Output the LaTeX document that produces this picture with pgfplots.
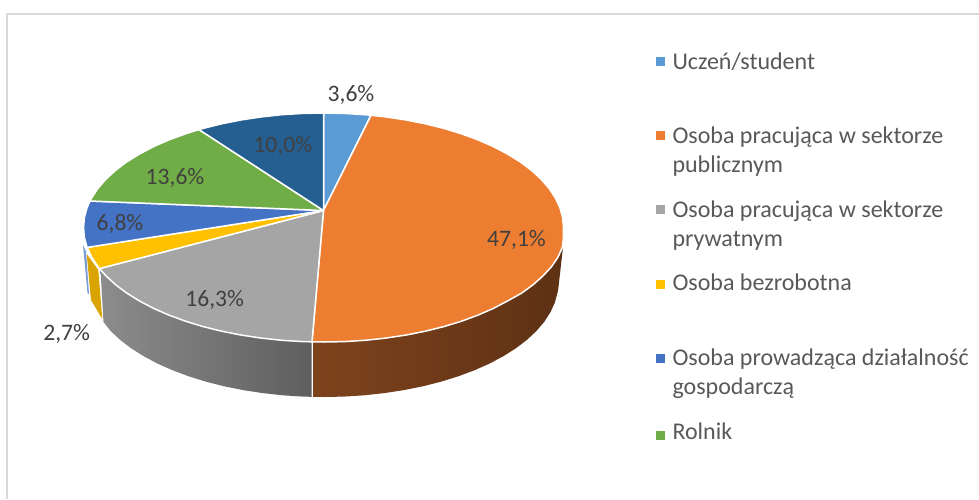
\documentclass[border=0pt]{standalone}
\usepackage{fontspec}
\setmainfont{Carlito}
\usepackage{pgfplots}
\pgfplotsset{compat=1.18}

\definecolor{cStudent}{HTML}{5B9BD5}
\definecolor{cPublic}{HTML}{ED7D31}
\definecolor{cPrivate}{HTML}{A5A5A5}
\definecolor{cJobless}{HTML}{FFC000}
\definecolor{cBusiness}{HTML}{4472C4}
\definecolor{cFarmer}{HTML}{70AD47}
\definecolor{cOther}{HTML}{255E91}
\definecolor{labelgray}{HTML}{404040}
\definecolor{legendgray}{HTML}{595959}

\pgfplotsset{
  face/.style={fill=#1, draw=white, line width=1.5pt, line join=round},
  key/.style={only marks, mark=square*, mark size=4pt, mark options={fill=#1, draw=#1, line width=0pt}},
}
\newcommand{\pct}[3]{\node[anchor=base, inner sep=0pt, font=\fontsize{23.6pt}{28pt}\selectfont, text=labelgray] at (axis cs:#1,#2) {#3};}
\newcommand{\leg}[2]{\node[anchor=base west, inner sep=0pt, font=\fontsize{24pt}{28pt}\selectfont, text=legendgray] at (axis cs:672.3,#1) {#2};}

\begin{document}
\begin{tikzpicture}
\begin{axis}[
    scale only axis,
    width=979pt, height=499pt,
    xmin=0, xmax=979, ymin=0, ymax=499,
    y dir=reverse,
    hide axis,
]
% background, keeps the full page size
\addplot[draw=none, fill=white] coordinates {(0,0) (979,0) (979,499) (0,499) (0,0)};
% frame
\addplot[draw=black!15, line width=1.5pt] coordinates {(6.8,499) (6.8,14) (979,14)};

% side walls
\addplot[draw=none, fill=cBusiness!70!white] coordinates {(83,245) (86,251) (89,294) (87.5,293) (83,245)};
\addplot[draw=none, fill=cJobless!85!black] coordinates {(86.7,254) (98.3,270) (102.3,319) (91,300) (86.7,254)};
\addplot[draw=none, left color=black!45, right color=black!63] coordinates {
  (311.5,342) (302.6,341.6) (281.8,340.3) (261.4,338.1) (241.4,335.1) (222.1,331.3) (203.5,326.7)
  (185.8,321.3) (169.2,315.2) (153.8,308.5) (139.7,301.1) (126.9,293.2) (115.7,284.8) (106,275.9) (100.5,270)
  (103.5,322) (110.5,330.9) (120,339.8) (131,348.2) (143.5,356.1) (157.3,363.5) (172.4,370.2) (188.7,376.3)
  (206,381.7) (224.2,386.3) (243.1,390.1) (262.7,393.1) (282.7,395.3) (303,396.6) (311.5,396.8) (311.5,342)};
\addplot[draw=none, left color={rgb,255:red,126;green,67;blue,29}, middle color={rgb,255:red,94;green,49;blue,20}, right color={rgb,255:red,94;green,49;blue,20}] coordinates {
  (313.5,342) (344.4,341.6) (365.2,340.3) (385.6,338.1) (405.6,335.1) (424.9,331.3) (443.5,326.7) (461.2,321.3)
  (477.8,315.2) (493.2,308.5) (507.3,301.1) (521.5,293.2) (533,284.8) (543,275.9) (551.5,266.7) (558,257.1) (563,247)
  (558.5,287) (557.6,292.5) (554.9,302.4) (550.5,312.1) (544.3,321.7) (536.5,330.9) (527,339.8) (516,348.2)
  (503.5,356.1) (489.7,363.5) (474.6,370.2) (458.3,376.3) (441,381.7) (422.8,386.3) (403.9,390.1) (384.3,393.1)
  (364.3,395.3) (344,396.6) (323.5,397) (313.5,396.8) (313.5,342)};

% top faces
\addplot[face=cStudent] coordinates {(323.5,210.5) (323.5,113) (344.4,113.4) (365.2,114.7) (371,115.3) (323.5,210.5)};
\addplot[face=cPublic] coordinates {
  (323.5,210.5) (371,115.3) (385.6,116.9) (405.6,119.9) (424.9,123.7) (443.5,128.3) (461.2,133.7) (477.8,139.8)
  (493.2,146.5) (507.3,153.9) (520.1,161.8) (531.3,170.2) (541,179.1) (549,188.3) (555.3,197.9) (559.9,207.6)
  (562.6,217.5) (563.5,227.5) (563.4,237.5) (562.5,247) (558,257.1) (551.5,266.7) (543,275.9) (533,284.8)
  (521.5,293.2) (507.3,301.1) (493.2,308.5) (477.8,315.2) (461.2,321.3) (443.5,326.7) (424.9,331.3) (405.6,335.1)
  (385.6,338.1) (365.2,340.3) (344.4,341.6) (323.5,342) (312,341.8) (323.5,210.5)};
\addplot[face=cPrivate] coordinates {
  (323.5,210.5) (312,341.8) (302.6,341.6) (281.8,340.3) (261.4,338.1) (241.4,335.1) (222.1,331.3) (203.5,326.7)
  (185.8,321.3) (169.2,315.2) (153.8,308.5) (139.7,301.1) (126.9,293.2) (115.7,284.8) (106,275.9) (99.5,268.6) (323.5,210.5)};
\addplot[face=cJobless] coordinates {(323.5,210.5) (99.5,268.6) (98,266.7) (91.7,257.1) (87.1,247.4) (323.5,210.5)};
\addplot[face=cBusiness] coordinates {(323.5,210.5) (87.1,247.4) (84.4,237.5) (83.5,227.5) (84.4,217.5) (87.1,207.6) (90,201) (323.5,210.5)};
\addplot[face=cFarmer] coordinates {
  (323.5,210.5) (90,201) (91.7,197.9) (98,188.3) (106,179.1) (115.7,170.2) (126.9,161.8) (139.7,153.9)
  (153.8,146.5) (169.2,139.8) (185.8,133.7) (199,129.6) (323.5,210.5)};
\addplot[face=cOther] coordinates {
  (323.5,210.5) (199,129.6) (203.5,128.3) (222.1,123.7) (241.4,119.9) (261.4,116.9) (281.8,114.7) (302.6,113.4) (323.5,113) (323.5,210.5)};

% value labels
\pct{351}{101}{3,6\%}
\pct{516.5}{246}{47,1\%}
\pct{214.7}{306.3}{16,3\%}
\pct{66.7}{340}{2,7\%}
\pct{120}{230}{6,8\%}
\pct{175}{184.5}{13,6\%}
\pct{282.8}{152.5}{10,0\%}

% legend
\addplot[key=cStudent] coordinates {(660,61.7)};
\addplot[key=cPublic] coordinates {(660,135.8)};
\addplot[key=cPrivate] coordinates {(660,209.8)};
\addplot[key=cJobless] coordinates {(660,284.2)};
\addplot[key=cBusiness] coordinates {(660,358.7)};
\addplot[key=cFarmer] coordinates {(660,435)};
\leg{69}{Uczeń/student}
\leg{143.3}{Osoba pracująca w sektorze}
\leg{172.3}{publicznym}
\leg{217.3}{Osoba pracująca w sektorze}
\leg{246}{prywatnym}
\leg{290.7}{Osoba bezrobotna}
\leg{365.7}{Osoba prowadząca działalność}
\leg{394.5}{gospodarczą}
\leg{439}{Rolnik}
\end{axis}
\end{tikzpicture}
\end{document}
